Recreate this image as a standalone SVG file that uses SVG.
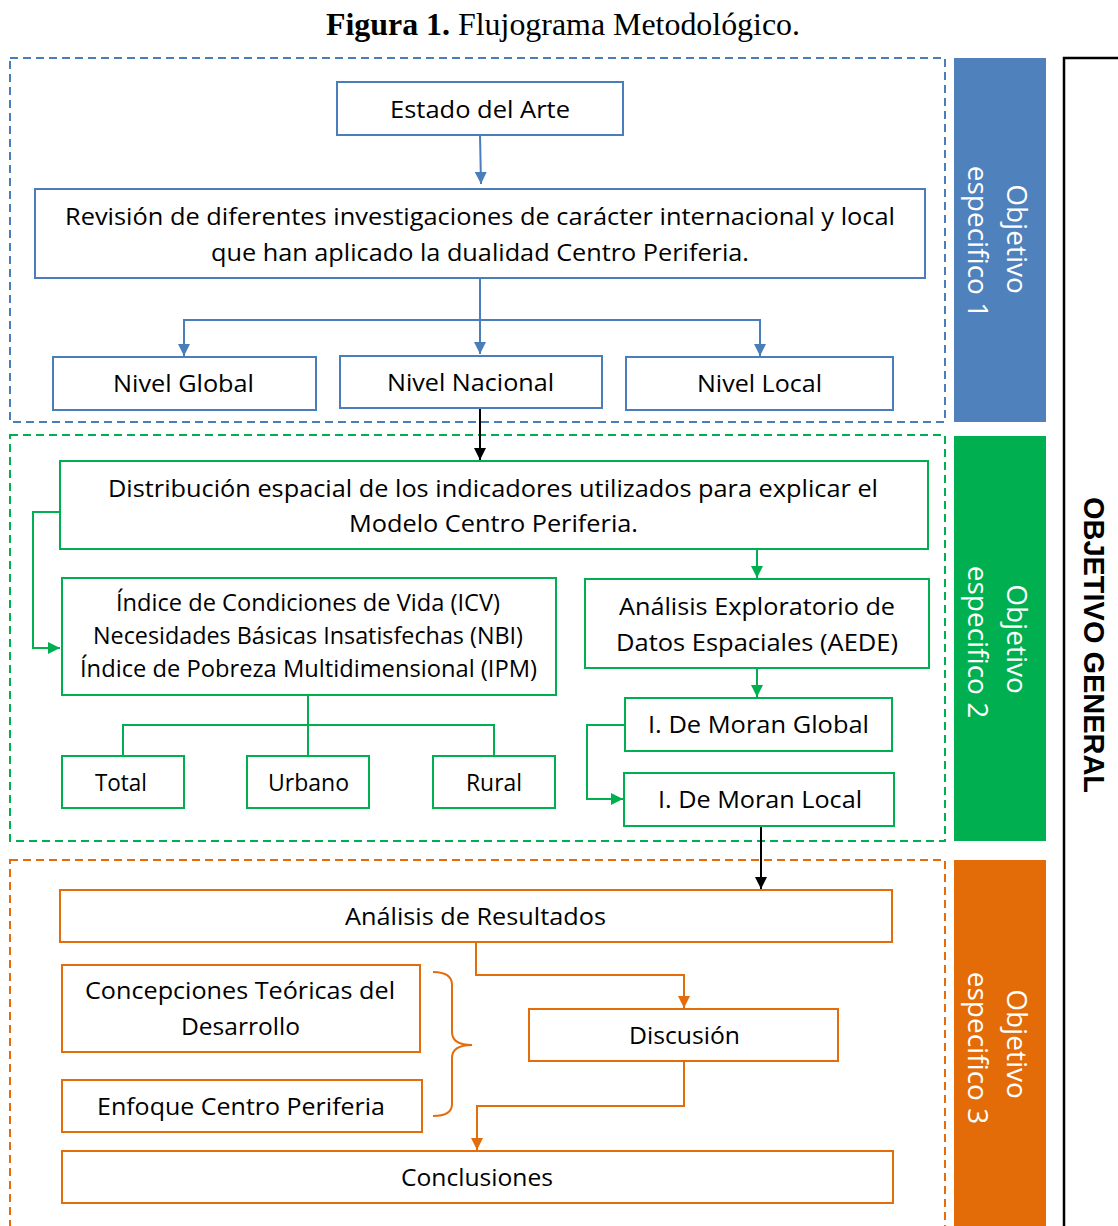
<svg xmlns="http://www.w3.org/2000/svg" width="1118" height="1226" viewBox="0 0 1118 1226">
<style>
text{font-family:"Open Sans","Noto Sans","Liberation Sans",sans-serif;font-size:24px;fill:#000;text-anchor:middle}
.b rect{stroke:#4a7ebb;fill:#fff;stroke-width:2}
.g rect{stroke:#00b050;fill:#fff;stroke-width:2}
.o rect{stroke:#e46c0a;fill:#fff;stroke-width:2}
text.side{fill:#fff;font-size:28px}
.lb{stroke:#4a7ebb;stroke-width:2;fill:none}
.lg{stroke:#00b050;stroke-width:2;fill:none}
.lo{stroke:#e46c0a;stroke-width:2;fill:none}
.lk{stroke:#000;stroke-width:2;fill:none}
.dash{fill:none;stroke-width:2;stroke-dasharray:8 5}
</style>
<defs>
<marker id="ag" viewBox="0 0 12 12" refX="12" refY="6" markerWidth="12" markerHeight="12" orient="auto" markerUnits="userSpaceOnUse"><path d="M0,0L12,6L0,12z" fill="#00b050"/></marker>
<marker id="ao" viewBox="0 0 12 12" refX="12" refY="6" markerWidth="12" markerHeight="12" orient="auto" markerUnits="userSpaceOnUse"><path d="M0,0L12,6L0,12z" fill="#e46c0a"/></marker>
<marker id="ak" viewBox="0 0 12 12" refX="12" refY="6" markerWidth="12" markerHeight="12" orient="auto" markerUnits="userSpaceOnUse"><path d="M0,0L12,6L0,12z" fill="#000"/></marker>
<marker id="abl" viewBox="0 0 12 12" refX="12" refY="6" markerWidth="12" markerHeight="12" orient="auto" markerUnits="userSpaceOnUse"><path d="M0,0L12,6L0,12z" fill="#4a7ebb"/></marker>
</defs>
<rect width="1118" height="1226" fill="#fff"/>
<text x="563" y="35" style="font-family:'Liberation Serif',serif;font-size:32px" textLength="474" lengthAdjust="spacingAndGlyphs"><tspan font-weight="bold">Figura 1.</tspan> Flujograma Metodológico.</text>

<g id="frames">
<rect x="10" y="58" width="935" height="364" class="dash" stroke="#4a7ebb"/>
<rect x="10" y="435" width="935" height="406" class="dash" stroke="#00b050"/>
<rect x="10" y="860" width="935" height="380" class="dash" stroke="#e46c0a"/>
</g>

<g id="obj1"><rect x="954" y="58" width="92" height="364" fill="#4f81bd"/>
<text class="side" transform="translate(1007,239) rotate(90)">Objetivo</text>
<text class="side" transform="translate(968,242) rotate(90)">especifico 1</text></g>
<g id="obj2"><rect x="954" y="436" width="92" height="405" fill="#00b050"/>
<text class="side" transform="translate(1007,639) rotate(90)">Objetivo</text>
<text class="side" transform="translate(968,642) rotate(90)">especifico 2</text></g>
<g id="obj3"><rect x="954" y="860" width="92" height="380" fill="#e36c09"/>
<text class="side" transform="translate(1007,1044) rotate(90)">Objetivo</text>
<text class="side" transform="translate(968,1048) rotate(90)">especifico 3</text></g>
<g id="objgeneral"><rect x="1064" y="58" width="80" height="1200" fill="none" stroke="#000" stroke-width="2.5"/>
<text transform="translate(1084,645) rotate(90)" style="font-family:'Liberation Sans',Arial,sans-serif;font-weight:bold;font-size:30px" textLength="296" lengthAdjust="spacingAndGlyphs">OBJETIVO GENERAL</text></g>

<g id="connectors">
<path class="lb" d="M480,135L481,184" marker-end="url(#abl)"/>
<path class="lb" d="M480,278L480,354" marker-end="url(#abl)"/>
<path class="lb" d="M184,320L760,320"/>
<path class="lb" d="M184,319L184,356" marker-end="url(#abl)"/>
<path class="lb" d="M760,319L760,356" marker-end="url(#abl)"/>
<path class="lk" d="M480,408L480,460" marker-end="url(#ak)"/>
<path class="lg" d="M60,512L33,512L33,648L60,648" marker-end="url(#ag)"/>
<path class="lg" d="M757,549L757,578" marker-end="url(#ag)"/>
<path class="lg" d="M757,668L757,697" marker-end="url(#ag)"/>
<path class="lg" d="M625,725L587,725L587,799L623,799" marker-end="url(#ag)"/>
<path class="lg" d="M308,695L308,756M123,756L123,725L494,725L494,756"/>
<path class="lk" d="M761,826L761,889" marker-end="url(#ak)"/>
<path class="lo" d="M476,942L476,975L684,975L684,1008" marker-end="url(#ao)"/>
<path class="lo" d="M684,1061L684,1106L477,1106L477,1150" marker-end="url(#ao)"/>
<path class="lo" d="M433,972Q452,972 452,985L452,1032Q452,1045 472,1045Q452,1045 452,1058L452,1104Q452,1116 433,1116"/>
</g>

<g id="n-estado" class="b"><rect x="337" y="82" width="286" height="53"/><text x="480" y="118" textLength="180" lengthAdjust="spacingAndGlyphs">Estado del Arte</text></g>
<g id="n-revision" class="b"><rect x="35" y="189" width="890" height="89"/><text x="480" y="225" textLength="830" lengthAdjust="spacingAndGlyphs">Revisión de diferentes investigaciones de carácter internacional y local</text><text x="480" y="261" textLength="538" lengthAdjust="spacingAndGlyphs">que han aplicado la dualidad Centro Periferia.</text></g>
<g id="n-global" class="b"><rect x="53" y="357" width="263" height="53"/><text x="183.5" y="392" textLength="141" lengthAdjust="spacingAndGlyphs">Nivel Global</text></g>
<g id="n-nacional" class="b"><rect x="340" y="356" width="262" height="52"/><text x="470.5" y="391" textLength="167" lengthAdjust="spacingAndGlyphs">Nivel Nacional</text></g>
<g id="n-local" class="b"><rect x="626" y="357" width="267" height="53"/><text x="759.5" y="392" textLength="125" lengthAdjust="spacingAndGlyphs">Nivel Local</text></g>

<g id="n-distribucion" class="g"><rect x="60" y="461" width="868" height="88"/><text x="493" y="497" textLength="770" lengthAdjust="spacingAndGlyphs">Distribución espacial de los indicadores utilizados para explicar el</text><text x="493.5" y="532" textLength="289" lengthAdjust="spacingAndGlyphs">Modelo Centro Periferia.</text></g>
<g id="n-icv" class="g"><rect x="62" y="578" width="494" height="117"/><text x="308" y="611" textLength="384" lengthAdjust="spacingAndGlyphs">Índice de Condiciones de Vida (ICV)</text><text x="308" y="644" textLength="430" lengthAdjust="spacingAndGlyphs">Necesidades Básicas Insatisfechas (NBI)</text><text x="308.5" y="677" textLength="457" lengthAdjust="spacingAndGlyphs">Índice de Pobreza Multidimensional (IPM)</text></g>
<g id="n-aede" class="g"><rect x="585" y="579" width="344" height="89"/><text x="757" y="615" textLength="276" lengthAdjust="spacingAndGlyphs">Análisis Exploratorio de</text><text x="757" y="651" textLength="282" lengthAdjust="spacingAndGlyphs">Datos Espaciales (AEDE)</text></g>
<g id="n-moranglobal" class="g"><rect x="625" y="698" width="267" height="53"/><text x="758.5" y="733" textLength="221" lengthAdjust="spacingAndGlyphs">I. De Moran Global</text></g>
<g id="n-moranlocal" class="g"><rect x="624" y="773" width="270" height="53"/><text x="760" y="808" textLength="204" lengthAdjust="spacingAndGlyphs">I. De Moran Local</text></g>
<g id="n-total" class="g"><rect x="62" y="756" width="122" height="52"/><text x="121" y="791" textLength="52" lengthAdjust="spacingAndGlyphs">Total</text></g>
<g id="n-urbano" class="g"><rect x="247" y="756" width="122" height="52"/><text x="308.5" y="791" textLength="81" lengthAdjust="spacingAndGlyphs">Urbano</text></g>
<g id="n-rural" class="g"><rect x="433" y="756" width="122" height="52"/><text x="494" y="791" textLength="56" lengthAdjust="spacingAndGlyphs">Rural</text></g>

<g id="n-resultados" class="o"><rect x="60" y="890" width="832" height="52"/><text x="475.5" y="925" textLength="261" lengthAdjust="spacingAndGlyphs">Análisis de Resultados</text></g>
<g id="n-concepciones" class="o"><rect x="62" y="965" width="358" height="87"/><text x="240" y="999" textLength="310" lengthAdjust="spacingAndGlyphs">Concepciones Teóricas del</text><text x="240.5" y="1035" textLength="119" lengthAdjust="spacingAndGlyphs">Desarrollo</text></g>
<g id="n-enfoque" class="o"><rect x="62" y="1080" width="360" height="52"/><text x="241" y="1115" textLength="288" lengthAdjust="spacingAndGlyphs">Enfoque Centro Periferia</text></g>
<g id="n-discusion" class="o"><rect x="529" y="1009" width="309" height="52"/><text x="684.5" y="1044" textLength="111" lengthAdjust="spacingAndGlyphs">Discusión</text></g>
<g id="n-conclusiones" class="o"><rect x="62" y="1151" width="831" height="52"/><text x="477" y="1186" textLength="152" lengthAdjust="spacingAndGlyphs">Conclusiones</text></g>
</svg>
